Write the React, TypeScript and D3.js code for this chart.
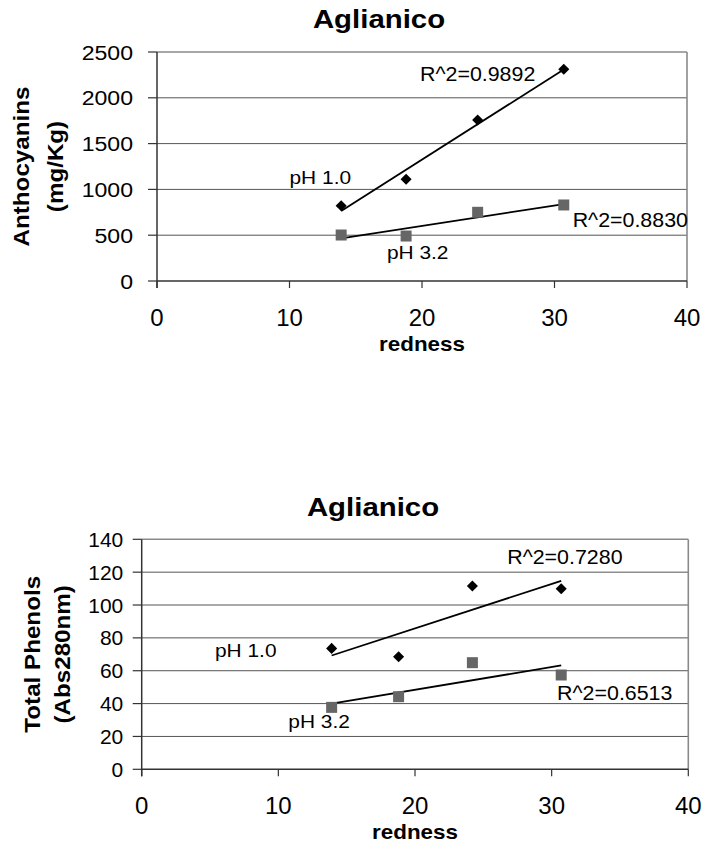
import React from "react";
import * as d3 from "d3";

// ---- data ----
const redness = [13.9, 18.8, 24.2, 30.7];

const anthoPH10 = [822, 1110, 1758, 2311];
const anthoPH32 = [502, 491, 750, 830];

const phenolPH10 = [73.6, 68.5, 111.6, 109.9];
const phenolPH32 = [37.7, 44.2, 64.9, 57.4];

const xTicks = [0, 10, 20, 30, 40];
const anthoTicks = [0, 500, 1000, 1500, 2000, 2500];
const phenolTicks = [0, 20, 40, 60, 80, 100, 120, 140];

const chartTitle = "Aglianico";
const xLabel = "redness";
const anthoYLabel = ["Anthocyanins", "(mg/Kg)"];
const phenolYLabel = ["Total Phenols", "(Abs280nm)"];
const seriesNames = ["pH 1.0", "pH 3.2"];
const anthoR2 = ["R^2=0.9892", "R^2=0.8830"];
const phenolR2 = ["R^2=0.7280", "R^2=0.6513"];

const FONT = "'Liberation Sans', Arial, Helvetica, sans-serif";

type TProps = {
  x: number;
  y: number;
  size: number;
  sx?: number;
  anchor?: "start" | "middle" | "end";
  bold?: boolean;
  rotate?: number;
  children: React.ReactNode;
};

function T({ x, y, size, sx = 1, anchor = "start", bold = false, rotate = 0, children }: TProps) {
  return (
    <text
      transform={`translate(${x},${y}) rotate(${rotate}) scale(${sx},1)`}
      fontSize={size}
      fontFamily={FONT}
      fontWeight={bold ? "bold" : "normal"}
      textAnchor={anchor}
      fill="#000"
    >
      {children}
    </text>
  );
}

function regression(xs: number[], ys: number[]) {
  const mx = d3.mean(xs)!;
  const my = d3.mean(ys)!;
  let sxy = 0;
  let sxx = 0;
  xs.forEach((x, i) => {
    sxy += (x - mx) * (ys[i] - my);
    sxx += (x - mx) * (x - mx);
  });
  const slope = sxy / sxx;
  return (x: number) => my + slope * (x - mx);
}

type Label = { text: string; x: number; y: number; anchor?: "start" | "middle" | "end" };

type ChartProps = {
  oy: number;
  left: number;
  right: number;
  top: number;
  bottom: number;
  yMax: number;
  yTicks: number[];
  s1: number[];
  s2: number[];
  yLabel: string[];
  yLabelX: [number, number];
  yTickGap: number;
  yTickSize: number;
  yTickSx: number;
  titleX: number;
  xLabelX: number;
  labels: Label[];
};

function Chart(p: ChartProps) {
  const x = d3.scaleLinear().domain([0, 40]).range([p.left, p.right]);
  const y = d3.scaleLinear().domain([0, p.yMax]).range([p.oy + p.bottom, p.oy + p.top]);
  const f1 = regression(redness, p.s1);
  const f2 = regression(redness, p.s2);
  const xMin = d3.min(redness)!;
  const xMax = d3.max(redness)!;
  const line = d3
    .line<number>()
    .x((d) => x(d[0] as any))
    .y((d) => y(d[1] as any));
  const trend = (f: (v: number) => number) =>
    d3
      .line<number>()
      .x((v) => x(v))
      .y((v) => y(f(v)))([xMin, xMax]) as string;
  void line;
  const diamond = d3.symbol().type(d3.symbolDiamond2).size(78)() as string;
  const yTop = y(p.yMax);
  const yBot = y(0);
  const cy = (yTop + yBot) / 2;

  return (
    <g>
      <T x={p.titleX} y={p.oy + 28} size={26} sx={1.13} bold anchor="middle">
        {chartTitle}
      </T>
      {/* gridlines */}
      {p.yTicks
        .filter((t) => t > 0 && t < p.yMax)
        .map((t) => (
          <line key={t} x1={x(0)} x2={x(40)} y1={y(t)} y2={y(t)} stroke="#555" strokeWidth={1} />
        ))}
      {/* plot frame (top/right gray) */}
      <line x1={x(0)} x2={x(40)} y1={yTop} y2={yTop} stroke="#8a8a8a" strokeWidth={1.6} />
      <line x1={x(40)} x2={x(40)} y1={yTop} y2={yBot} stroke="#8a8a8a" strokeWidth={1.6} />
      {/* axes */}
      <line x1={x(0)} x2={x(0)} y1={yTop} y2={yBot + 7} stroke="#333" strokeWidth={1.5} />
      <line x1={x(0)} x2={x(40)} y1={yBot} y2={yBot} stroke="#333" strokeWidth={1.5} />
      {p.yTicks.map((t) => (
        <g key={"yt" + t}>
          <line x1={x(0) - 9} x2={x(0)} y1={y(t)} y2={y(t)} stroke="#333" strokeWidth={1.2} />
          <T x={x(0) - p.yTickGap} y={y(t) + 7.5} size={p.yTickSize} sx={p.yTickSx} anchor="end">
            {t}
          </T>
        </g>
      ))}
      {xTicks.map((t) => (
        <g key={"xt" + t}>
          <line x1={x(t)} x2={x(t)} y1={yBot} y2={yBot + 7} stroke="#333" strokeWidth={1.2} />
          <T x={x(t)} y={yBot + 45} size={24} anchor="middle">
            {t}
          </T>
        </g>
      ))}
      <T x={p.xLabelX} y={yBot + 70} size={20} sx={1.12} bold anchor="middle">
        {xLabel}
      </T>
      <T x={p.yLabelX[0]} y={cy} size={22} sx={1.1} bold anchor="middle" rotate={-90}>
        {p.yLabel[0]}
      </T>
      <T x={p.yLabelX[1]} y={cy} size={22} sx={1.1} bold anchor="middle" rotate={-90}>
        {p.yLabel[1]}
      </T>
      {/* trend lines */}
      <path d={trend(f1)} stroke="#000" strokeWidth={1.8} fill="none" />
      <path d={trend(f2)} stroke="#000" strokeWidth={1.8} fill="none" />
      {/* markers */}
      {redness.map((r, i) => (
        <path key={"d" + i} d={diamond} transform={`translate(${x(r)},${y(p.s1[i])})`} fill="#000" />
      ))}
      {redness.map((r, i) => (
        <rect key={"s" + i} x={x(r) - 5.5} y={y(p.s2[i]) - 5.5} width={11} height={11} fill="#666" />
      ))}
      {/* annotations */}
      {p.labels.map((l, i) => (
        <T key={"l" + i} x={x(l.x)} y={y(l.y)} size={i < 2 ? 19 : 20} sx={i < 2 ? 1.1 : 1.07} anchor={l.anchor || "start"}>
          {l.text}
        </T>
      ))}
    </g>
  );
}

export default function App() {
  return (
    <svg
      width={720}
      height={849}
      style={{ position: "absolute", left: 0, top: 0, background: "#fff" }}
    >
      <rect width={720} height={849} fill="#fff" />
      <Chart
        oy={0}
        left={157}
        right={687}
        top={52}
        bottom={281}
        yMax={2500}
        yTicks={anthoTicks}
        s1={anthoPH10}
        s2={anthoPH32}
        yLabel={anthoYLabel}
        yLabelX={[29, 63]}
        yTickGap={24}
        yTickSize={21}
        yTickSx={1.1}
        titleX={379}
        xLabelX={422}
        labels={[
          { text: seriesNames[0], x: 10.0, y: 1060 },
          { text: seriesNames[1], x: 17.35, y: 240 },
          { text: anthoR2[0], x: 19.85, y: 2187 },
          { text: anthoR2[1], x: 31.37, y: 585 },
        ]}
      />
      <Chart
        oy={488.3}
        left={141.7}
        right={688.3}
        top={539.3 - 488.3}
        bottom={769.3 - 488.3}
        yMax={140}
        yTicks={phenolTicks}
        s1={phenolPH10}
        s2={phenolPH32}
        yLabel={phenolYLabel}
        yLabelX={[40, 70]}
        yTickGap={18.4}
        yTickSize={20}
        yTickSx={1.05}
        titleX={373}
        xLabelX={415}
        labels={[
          { text: seriesNames[0], x: 5.36, y: 68.5 },
          { text: seriesNames[1], x: 10.73, y: 25.0 },
          { text: phenolR2[0], x: 26.75, y: 124.8 },
          { text: phenolR2[1], x: 30.4, y: 42.2 },
        ]}
      />
    </svg>
  );
}
